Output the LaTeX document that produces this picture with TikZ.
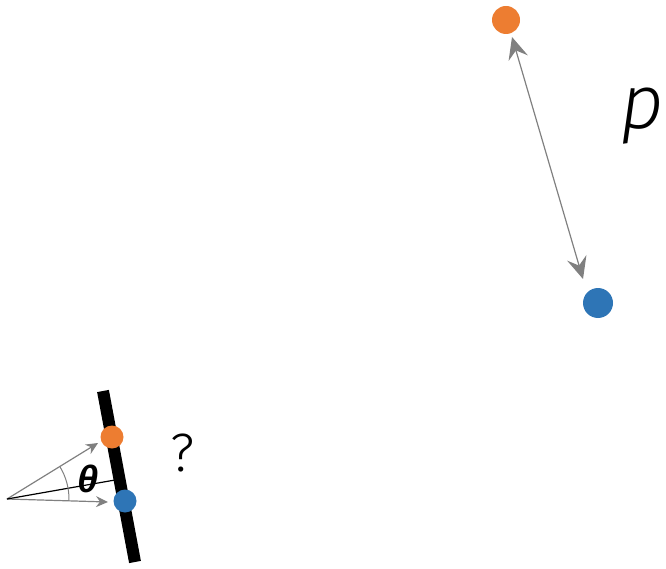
\documentclass[tikz,border=0pt]{standalone}
\usepackage{fontspec}
\setmainfont{Liberation Sans}
\newfontfamily\lightfont{Fira Sans Light}
\usetikzlibrary{arrows.meta}
\definecolor{dotorange}{RGB}{237,125,49}
\definecolor{dotblue}{RGB}{46,117,182}
\definecolor{arrgray}{RGB}{128,128,128}
\tikzset{
  dot/.style={circle,inner sep=0pt,minimum size=#1},
  garrow/.style={draw=arrgray,line width=1.2pt,-{Stealth[length=12pt,width=11pt,inset=4pt]}},
  bigarrow/.style={draw=arrgray,line width=1.2pt,{Stealth[length=22pt,width=20pt,inset=8pt]}-{Stealth[length=22pt,width=20pt,inset=8pt]}},
}
\begin{document}
\begin{tikzpicture}[x=1pt,y=-1pt]
\useasboundingbox (0,0) rectangle (666,569);
% top right
\node[dot=28pt,fill=dotorange] (o1) at (506,20) {};
\node[dot=30pt,fill=dotblue] (b1) at (598,303) {};
\coordinate (t1) at (512,37);
\coordinate (t2) at (583,279);
\draw[bigarrow] (t1) -- (t2);
\node (p) at (642,116) {\fontsize{76}{76}\lightfont\itshape p};
% bottom left
\coordinate (bt) at (103,391);
\coordinate (bb) at (135,562);
\draw[line width=12pt] (bt) -- (bb);
\node[dot=23pt,fill=dotorange] (o2) at (112,437) {};
\node[dot=23pt,fill=dotblue] (b2) at (125,501) {};
\coordinate (org) at (7,499);
\coordinate (a1) at (98,443);
\coordinate (a2) at (108,502);
\coordinate (mid) at (115,480);
\draw[garrow] (org) -- (a1);
\draw[garrow] (org) -- (a2);
\draw[line width=1.2pt] (org) -- (mid);
\draw[arrgray,line width=1pt] (org) ++(-31.6:62) arc[start angle=-31.6,end angle=1.7,radius=62];
\node (th) at (88,479) {\fontsize{38}{38}\selectfont\bfseries\itshape θ};
\node (q) at (183,453) {\fontsize{54}{54}\lightfont ?};
\end{tikzpicture}
\end{document}
